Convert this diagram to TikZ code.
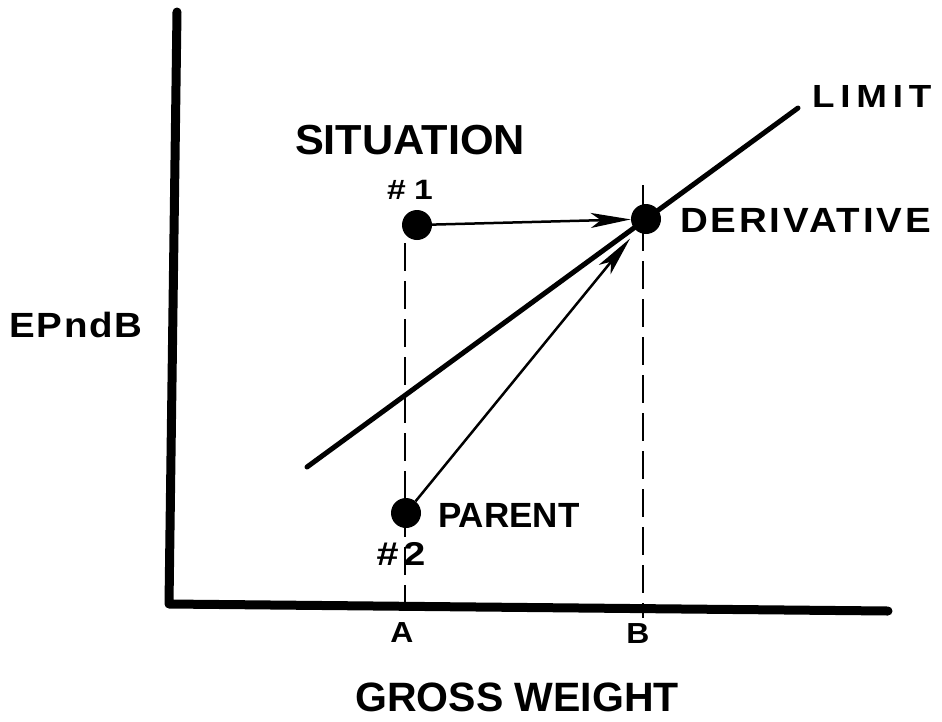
\documentclass[tikz,border=0pt]{standalone}
\usepackage{fontspec}
\setmainfont{Liberation Sans}
\usetikzlibrary{arrows.meta}
\tikzset{
  lbl/.style={inner sep=0pt, font=\bfseries\fontsize{35}{40}\selectfont},
  dot/.style={circle, fill=black, inner sep=0pt, minimum size=30pt},
  axis/.style={line width=9pt, line cap=round, line join=round},
  guide/.style={line width=2.5pt, dash pattern=on 28pt off 10pt},
  limitline/.style={line width=5pt, line cap=round},
  ptr/.style={line width=2.5pt, -{Stealth[length=40pt,width=15pt,inset=10pt]}},
}
\begin{document}
\begin{tikzpicture}[x=1pt,y=-1pt]
\useasboundingbox (0,0) rectangle (942,721);
% axes
\coordinate (ytop) at (177,12);
\coordinate (orig) at (169,604);
\coordinate (xend) at (888,611);
\draw[axis] (ytop) -- (orig) -- (xend);
% guide lines
\coordinate (atop) at (405,243);
\coordinate (abot) at (405,606);
\coordinate (btop) at (643,185);
\coordinate (bbot) at (643,618);
\draw[guide] (atop) -- (abot);
\draw[guide] (btop) -- (bbot);
% limit line
\coordinate (lim0) at (307,467);
\coordinate (lim1) at (798,108);
\draw[limitline] (lim0) -- (lim1);
% dots
\node[dot] (s1) at (417,225) {};
\node[dot] (der) at (646,219) {};
\node[dot] (par) at (406,513) {};
% arrows
\draw[ptr] (s1) -- (der);
\draw[ptr, shorten >=10pt] (par) -- (der);
% labels
\node[lbl, font=\bfseries\fontsize{42}{46}\selectfont\addfontfeature{FakeStretch=1.03}] (sit) at (410,140) {SITUATION};
\node[lbl, font=\bfseries\fontsize{28}{32}\selectfont\addfontfeature{FakeStretch=1.2}] (n1) at (410,190) {\#\hspace{0.3em}1};
\node[lbl, anchor=west, font=\bfseries\fontsize{35}{40}\selectfont\addfontfeature{FakeStretch=1.1,LetterSpace=8}] (dlab) at (680,220) {DERIVATIVE};
\node[lbl, anchor=west, font=\bfseries\fontsize{32}{36}\selectfont\addfontfeature{FakeStretch=1.15,LetterSpace=18}] (llab) at (812,96) {LIMIT};
\node[lbl, font=\bfseries\fontsize{35}{40}\selectfont\addfontfeature{FakeStretch=1.1,LetterSpace=5}] (ep) at (76,325) {EPndB};
\node[lbl, anchor=west] (plab) at (438,515) {PARENT};
\node[lbl, font=\bfseries\fontsize{33}{36}\selectfont\addfontfeature{FakeStretch=1.2}] (n2) at (401,554) {\#\hspace{0.15em}2};
\node[lbl, font=\bfseries\fontsize{29}{32}\selectfont\addfontfeature{FakeStretch=1.1}] (alab) at (402,633) {A};
\node[lbl, font=\bfseries\fontsize{29}{32}\selectfont\addfontfeature{FakeStretch=1.1}] (blab) at (638,634) {B};
\node[lbl, font=\bfseries\fontsize{41}{46}\selectfont] (gw) at (517,697) {GROSS WEIGHT};
\end{tikzpicture}
\end{document}
